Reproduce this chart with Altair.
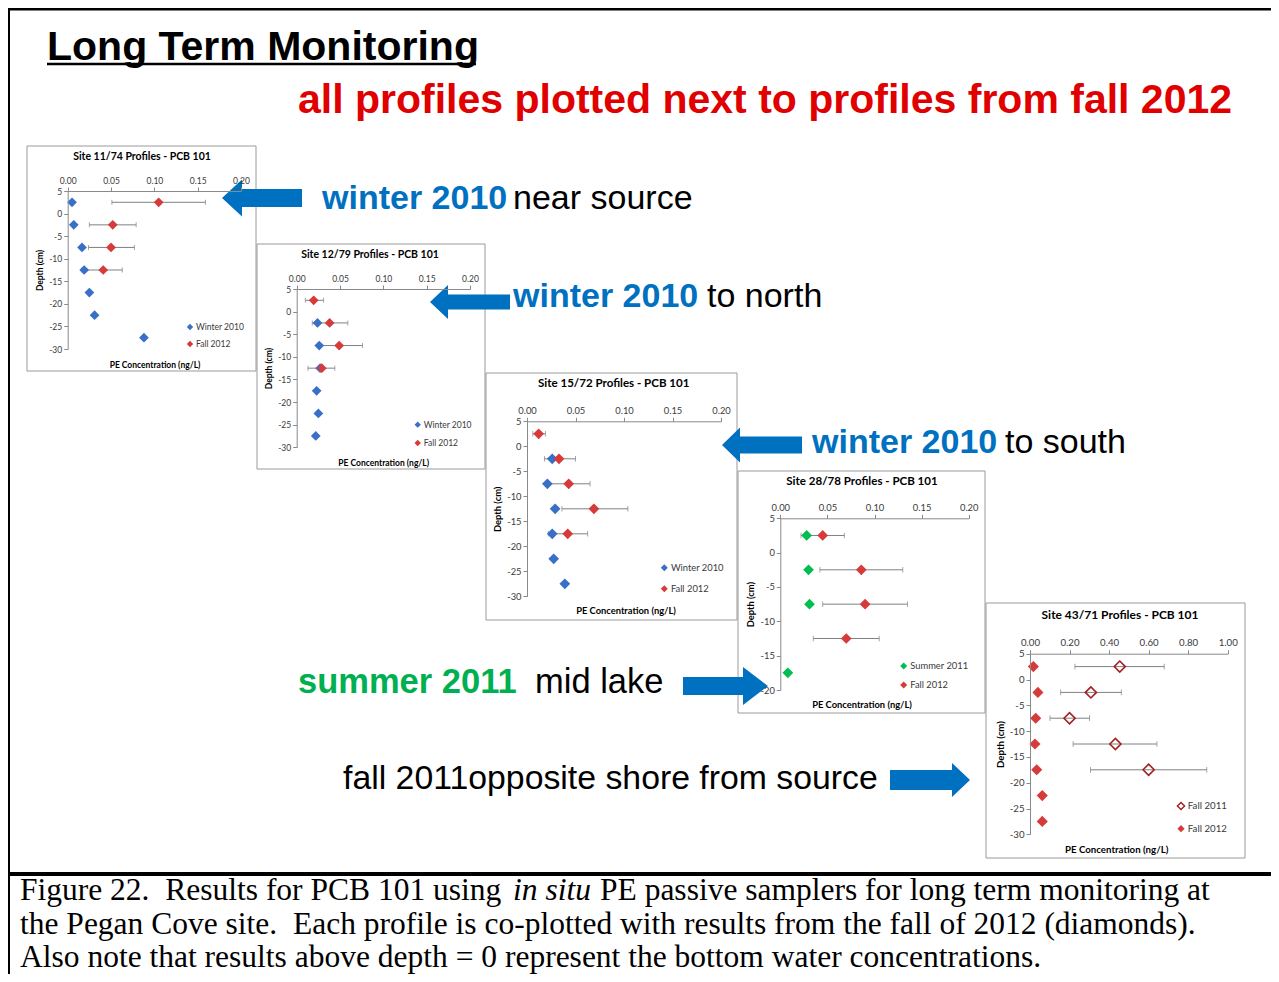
import altair as alt
import pandas as pd

M = 8  # page margin

# ---------------- data ----------------
# Site 11/74
s1_win_depth = [2.5, -2.5, -7.5, -12.5, -17.5, -22.5, -27.5]
s1_win_conc = [0.005, 0.007, 0.0165, 0.019, 0.025, 0.031, 0.088]
s1_fall_depth = [2.5, -2.5, -7.5, -12.5]
s1_fall_conc = [0.105, 0.052, 0.050, 0.041]
s1_fall_lo = [0.051, 0.025, 0.024, 0.0165]
s1_fall_hi = [0.159, 0.079, 0.077, 0.063]
# Site 12/79
s2_win_depth = [-2.5, -7.5, -12.5, -17.5, -22.5, -27.5]
s2_win_conc = [0.024, 0.026, 0.027, 0.023, 0.025, 0.022]
s2_fall_depth = [2.5, -2.5, -7.5, -12.5]
s2_fall_conc = [0.0196, 0.038, 0.049, 0.029]
s2_fall_lo = [0.010, 0.018, 0.025, 0.013]
s2_fall_hi = [0.031, 0.059, 0.076, 0.044]
# Site 15/72
s3_win_depth = [-2.5, -7.5, -12.5, -17.5, -22.5, -27.5]
s3_win_conc = [0.026, 0.021, 0.029, 0.026, 0.0275, 0.039]
s3_fall_depth = [2.5, -2.5, -7.5, -12.5, -17.5]
s3_fall_conc = [0.012, 0.033, 0.043, 0.069, 0.042]
s3_fall_lo = [0.006, 0.018, 0.021, 0.036, 0.022]
s3_fall_hi = [0.019, 0.050, 0.065, 0.104, 0.0625]
# Site 28/78
s4_sum_depth = [2.5, -2.5, -7.5, -17.5]
s4_sum_conc = [0.028, 0.030, 0.031, 0.008]
s4_fall_depth = [2.5, -2.5, -7.5, -12.5]
s4_fall_conc = [0.045, 0.086, 0.090, 0.070]
s4_fall_lo = [0.022, 0.042, 0.045, 0.035]
s4_fall_hi = [0.068, 0.130, 0.135, 0.105]
# Site 43/71
s5_f11_depth = [2.5, -2.5, -7.5, -12.5, -17.5]
s5_f11_conc = [0.454, 0.308, 0.200, 0.432, 0.600]
s5_f11_lo = [0.227, 0.155, 0.101, 0.218, 0.306]
s5_f11_hi = [0.679, 0.462, 0.301, 0.642, 0.894]
s5_f12_depth = [2.5, -2.5, -7.5, -12.5, -17.5, -22.5, -27.5]
s5_f12_conc = [0.017, 0.040, 0.029, 0.025, 0.034, 0.062, 0.062]

# tick values
x_ticks_020 = [0.0, 0.05, 0.10, 0.15, 0.20]
x_ticks_100 = [0.0, 0.2, 0.4, 0.6, 0.8, 1.0]
y_ticks_30 = [5, 0, -5, -10, -15, -20, -25, -30]
y_ticks_20 = [5, 0, -5, -10, -15, -20]

panel_titles = ["Site 11/74 Profiles - PCB 101", "Site 12/79 Profiles - PCB 101",
                "Site 15/72 Profiles - PCB 101", "Site 28/78 Profiles - PCB 101",
                "Site 43/71 Profiles - PCB 101"]

# ---------------- styles ----------------
CF = "Lato"
SF = "Liberation Sans"
SERIF = "Liberation Serif"
AX = "#8a8a8a"
BLUE = "#3A6FC8"
RED = "#D63A3A"
GREEN = "#00BE50"
DARKRED = "#A31F1F"
ERR = "#808080"
S_BLUE = "#0070C0"
S_GREEN = "#00B050"
S_RED = "#E00000"

dummy = pd.DataFrame({"k": [0]})


def V(v):
    return alt.value(v - M)


def panel(title, series, geo, xticks, ydom, yticks, fs):
    xsc = alt.Scale(domain=[xticks[0], xticks[-1]], range=[geo["x0"] - M, geo["x1"] - M],
                    nice=False, zero=False)
    ysc = alt.Scale(domain=ydom, range=[geo["yb"] - M, geo["yt"] - M], nice=False, zero=False)
    xax = alt.Axis(orient="top", offset=-(geo["yt"] - M), values=xticks, format=".2f",
                   title=None, grid=False, domainColor=AX, tickColor=AX, tickSize=4,
                   labelFont=CF, labelFontSize=8.5 * fs, labelColor="#3a3a3a", labelPadding=2,
                   labelFlush=False, labelOverlap=False, zindex=2)
    yax = alt.Axis(orient="left", offset=-(geo["x0"] - M), values=yticks,
                   labelExpr="'' + datum.value", title="Depth (cm)", grid=False,
                   domainColor=AX, tickColor=AX, tickSize=4, labelFont=CF,
                   labelFontSize=8.5 * fs, labelColor="#3a3a3a", labelPadding=2,
                   labelOverlap=False, titleFont=CF, titleFontSize=8.5 * fs,
                   titleFontWeight="bold", titleColor="black", titlePadding=4, zindex=2)
    Y = alt.Y("depth:Q", scale=ysc, axis=yax)

    def X(f):
        return alt.X(f, type="quantitative", scale=xsc, axis=xax)

    layers = []
    # error bars
    for s in series:
        if "lo" in s:
            df = pd.DataFrame({"depth": s["depth"], "lo": s["lo"], "hi": s["hi"]})
            layers.append(alt.Chart(df).mark_rule(color=ERR, strokeWidth=1).encode(
                x=X("lo"), x2=alt.X2("hi"), y=Y))
            layers.append(alt.Chart(df).transform_fold(["lo", "hi"], as_=["k", "cap"])
                          .mark_tick(orient="vertical", size=5 * fs, thickness=1, color=ERR)
                          .encode(x=X("cap"), y=Y))
    # points
    for s in series:
        df = pd.DataFrame({"depth": s["depth"], "conc": s["conc"]})
        if s.get("hollow"):
            mk = alt.Chart(df).mark_point(shape="diamond", filled=False, stroke=s["color"],
                                          strokeWidth=1.6, size=95 * fs * fs, opacity=1)
        else:
            mk = alt.Chart(df).mark_point(shape="diamond", filled=True, color=s["color"],
                                          size=95 * fs * fs, opacity=1, strokeWidth=0)
        layers.append(mk.encode(x=X("conc"), y=Y))
    p = alt.layer(*layers)

    deco = []
    fx0, fy0, fx1, fy1 = geo["frame"]
    frame = alt.Chart(dummy).mark_rect(fill="white", stroke="#9a9a9a", strokeWidth=1).encode(
        x=V(fx0), x2=V(fx1), y=V(fy0), y2=V(fy1))
    deco.append(alt.Chart(dummy).mark_text(text=title, font=CF, fontSize=10.5 * fs,
                                           fontWeight="bold", color="black", baseline="middle")
                .encode(x=V(geo["title"][0]), y=V(geo["title"][1])))
    deco.append(alt.Chart(dummy).mark_text(text="PE Concentration (ng/L)", font=CF,
                                           fontSize=8.5 * fs, fontWeight="bold", color="black",
                                           baseline="middle")
                .encode(x=V(geo["pe"][0]), y=V(geo["pe"][1])))
    for s, (lx, ly) in zip(series, geo["legend"]):
        if s.get("hollow"):
            sym = alt.Chart(dummy).mark_point(shape="diamond", filled=False, stroke=s["color"],
                                              strokeWidth=1.4, size=40 * fs * fs, opacity=1)
        else:
            sym = alt.Chart(dummy).mark_point(shape="diamond", filled=True, color=s["color"],
                                              size=40 * fs * fs, opacity=1, strokeWidth=0)
        deco.append(sym.encode(x=V(lx), y=V(ly)))
        deco.append(alt.Chart(dummy).mark_text(text=s["name"], font=CF, fontSize=8.5 * fs,
                                               color="#3a3a3a", align="left", baseline="middle")
                    .encode(x=V(lx + 6 * fs), y=V(ly)))
    return frame, p, deco


panels_spec = [
    (panel_titles[0],
     [dict(name="Winter 2010", depth=s1_win_depth, conc=s1_win_conc, color=BLUE),
      dict(name="Fall 2012", depth=s1_fall_depth, conc=s1_fall_conc, lo=s1_fall_lo,
           hi=s1_fall_hi, color=RED)],
     dict(frame=(27, 146, 256, 371), x0=67.7, x1=241, yt=191, yb=349, title=(142, 157),
          pe=(155, 365), legend=[(190, 327), (190, 344)]),
     x_ticks_020, [-30, 5], y_ticks_30, 1.0),
    (panel_titles[1],
     [dict(name="Winter 2010", depth=s2_win_depth, conc=s2_win_conc, color=BLUE),
      dict(name="Fall 2012", depth=s2_fall_depth, conc=s2_fall_conc, lo=s2_fall_lo,
           hi=s2_fall_hi, color=RED)],
     dict(frame=(257, 244, 485, 469), x0=296.7, x1=470, yt=289, yb=447.3, title=(370, 254.7),
          pe=(383.7, 463), legend=[(417.7, 424.7), (417.7, 443)]),
     x_ticks_020, [-30, 5], y_ticks_30, 1.0),
    (panel_titles[2],
     [dict(name="Winter 2010", depth=s3_win_depth, conc=s3_win_conc, color=BLUE),
      dict(name="Fall 2012", depth=s3_fall_depth, conc=s3_fall_conc, lo=s3_fall_lo,
           hi=s3_fall_hi, color=RED)],
     dict(frame=(486, 373, 737, 620), x0=527, x1=721, yt=421.3, yb=596.3, title=(613.7, 383.7),
          pe=(626, 611), legend=[(664.3, 567.7), (664.3, 588.7)]),
     x_ticks_020, [-30, 5], y_ticks_30, 1.1),
    (panel_titles[3],
     [dict(name="Summer 2011", depth=s4_sum_depth, conc=s4_sum_conc, color=GREEN),
      dict(name="Fall 2012", depth=s4_fall_depth, conc=s4_fall_conc, lo=s4_fall_lo,
           hi=s4_fall_hi, color=RED)],
     dict(frame=(738, 471, 985, 713), x0=780.3, x1=968.7, yt=518.3, yb=690, title=(862, 481.7),
          pe=(862, 705), legend=[(903.7, 666), (903.7, 685)]),
     x_ticks_020, [-20, 5], y_ticks_20, 1.1),
    (panel_titles[4],
     [dict(name="Fall 2011", depth=s5_f11_depth, conc=s5_f11_conc, lo=s5_f11_lo, hi=s5_f11_hi,
           color=DARKRED, hollow=True),
      dict(name="Fall 2012", depth=s5_f12_depth, conc=s5_f12_conc, color=RED)],
     dict(frame=(986, 603, 1245, 858), x0=1030, x1=1227.7, yt=653.7, yb=834.3,
          title=(1120, 614.7), pe=(1116.7, 850.3), legend=[(1181, 806), (1181, 828.7)]),
     x_ticks_100, [-30, 5], y_ticks_30, 1.14),
]

frames, plots, decos = [], [], []
for spec in panels_spec:
    f, p, d = panel(*spec)
    frames.append(f)
    plots.append(p)
    decos.extend(d)


def arrow(tip, base, end, cy, hh, bh, color=S_BLUE):
    cx = (tip + end) / 2.0
    r = abs(end - tip) / 2.0
    sgn = -1 if tip < end else 1
    hb = (base - cx) / r
    path = (f"M{sgn * 1:.4f},0 L{hb:.4f},{-hh / r:.4f} L{hb:.4f},{-bh / r:.4f} "
            f"L{-sgn * 1:.4f},{-bh / r:.4f} L{-sgn * 1:.4f},{bh / r:.4f} "
            f"L{hb:.4f},{bh / r:.4f} L{hb:.4f},{hh / r:.4f} Z")
    return alt.Chart(dummy).mark_point(shape=path, filled=True, color=color, opacity=1,
                                       strokeWidth=0, size=(2 * r) ** 2).encode(x=V(cx), y=V(cy))


def txt(s, x, y, size, color="black", weight="normal", font=SF, style="normal"):
    return alt.Chart(dummy).mark_text(text=s, font=font, fontSize=size, fontWeight=weight,
                                      fontStyle=style, color=color, align="left",
                                      baseline="alphabetic").encode(x=V(x), y=V(y))


NB = "\u00a0"
CAP = 31.5

annot = [
    arrow(222, 242, 302, 198, 18.5, 9),
    arrow(430, 448, 510, 302, 17, 7.5),
    arrow(722, 740, 802, 445, 17.5, 8.5),
    arrow(768, 743, 683, 686, 19, 9),
    arrow(970, 952, 890, 780, 17, 10),
    txt("Long Term Monitoring", 47, 60, 41, weight="bold"),
    alt.Chart(dummy).mark_rule(color="black", strokeWidth=2.5).encode(
        x=V(47), x2=V(476), y=V(64)),
    txt("all profiles plotted next to profiles from fall 2012", 298, 113, 41, S_RED, "bold"),
    txt("winter 2010", 322, 209, 34, S_BLUE, "bold"),
    txt("near source", 513, 209, 34),
    txt("winter 2010", 513, 307, 34, S_BLUE, "bold"),
    txt("to north", 707, 307, 34),
    txt("winter 2010", 812, 453, 34, S_BLUE, "bold"),
    txt("to south", 1005, 453, 34),
    txt("summer 2011", 298, 693, 34.5, S_GREEN, "bold"),
    txt("mid lake", 535, 693, 34.5),
    txt("fall 2011opposite shore from source", 343, 789, 33.8),
    # borders
    alt.Chart(dummy).mark_rule(color="black", strokeWidth=3).encode(
        x=alt.value(0), x2=alt.value(1263), y=alt.value(1)),
    alt.Chart(dummy).mark_rule(color="black", strokeWidth=2).encode(
        x=alt.value(1), y=alt.value(0), y2=alt.value(966)),
    alt.Chart(dummy).mark_rule(color="black", strokeWidth=4).encode(
        x=alt.value(0), x2=alt.value(1263), y=V(874)),
    # caption
    txt("Figure 22." + NB + " Results for PCB 101 using", 20, 900, CAP, font=SERIF),
    txt("in situ", 513, 900, CAP, font=SERIF, style="italic"),
    txt("PE passive samplers for long term monitoring at", 600, 900, CAP, font=SERIF),
    txt("the Pegan Cove site." + NB + " Each profile is co-plotted with results from the fall of 2012 (diamonds).",
        20, 934, CAP, font=SERIF),
    txt("Also note that results above depth = 0 represent the bottom water concentrations.",
        20, 967, CAP, font=SERIF),
]

chart = (
    alt.layer(*frames, *plots, *decos, *annot)
    .resolve_scale(x="independent", y="independent")
    .properties(width=1263, height=966, padding=0, autosize=alt.AutoSizeParams(type="none"),
                background="white")
    .configure_view(stroke=None)
)

chart.save("out.html", embed_options={"renderer": "svg", "actions": False})
